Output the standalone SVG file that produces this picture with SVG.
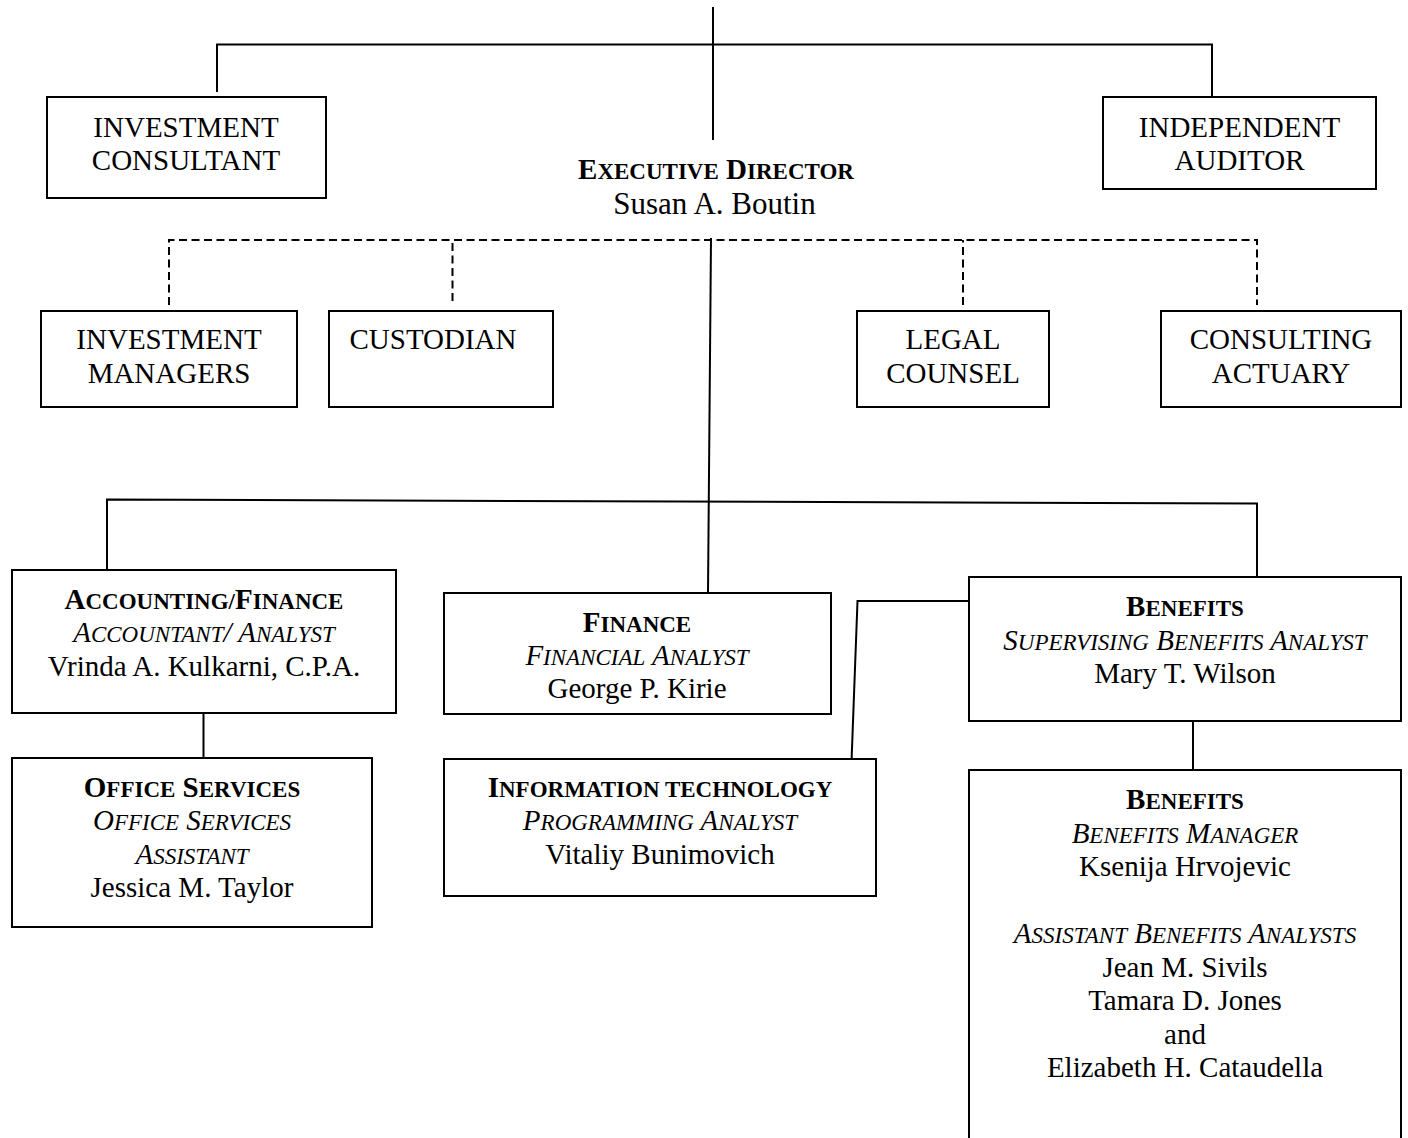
<svg xmlns="http://www.w3.org/2000/svg" width="1408" height="1138" viewBox="0 0 1408 1138">
<style>
text{font-family:"Liberation Serif","Times New Roman",serif;font-size:29px;fill:#000;text-anchor:middle}
.b{font-weight:bold}
.i{font-style:italic}
.s{font-size:23px}
.big{font-size:31px}
.box{fill:#fff;stroke:#000;stroke-width:2}
.ln{fill:none;stroke:#000;stroke-width:2}
.dash{fill:none;stroke:#000;stroke-width:2;stroke-dasharray:8 4.5}
</style>
<rect width="1408" height="1138" fill="#fff"/>
<g id="connectors">
<path class="ln" d="M713,7 V140"/>
<path class="ln" d="M217,92 V44.5 H1212 V97"/>
<path class="dash" d="M169,305 V240 H1257 V305"/>
<path class="dash" d="M452.5,301 V240"/>
<path class="dash" d="M963,305 V240"/>
<path class="ln" d="M711,238 L708,593"/>
<path class="ln" d="M107,570 V499.5 L1257,503.5 V577"/>
<path class="ln" d="M203.5,713 V758"/>
<path class="ln" d="M851.5,762 L857.5,601 H969"/>
<path class="ln" d="M1193,721 V770"/>
</g>
<g id="investment-consultant">
<rect class="box" x="47" y="97" width="279" height="101"/>
<text x="186" y="137">INVESTMENT</text>
<text x="186" y="170">CONSULTANT</text>
</g>
<g id="independent-auditor">
<rect class="box" x="1103" y="97" width="273" height="92"/>
<text x="1239.5" y="137">INDEPENDENT</text>
<text x="1239.5" y="170">AUDITOR</text>
</g>
<g id="executive-director">
<text class="b" x="716" y="179">E<tspan class="s">XECUTIVE</tspan> D<tspan class="s">IRECTOR</tspan></text>
<text class="big" x="714.5" y="214">Susan A. Boutin</text>
</g>
<g id="investment-managers">
<rect class="box" x="41" y="311" width="256" height="96"/>
<text x="169" y="349">INVESTMENT</text>
<text x="169" y="383">MANAGERS</text>
</g>
<g id="custodian">
<rect class="box" x="329" y="311" width="224" height="96"/>
<text x="433" y="349">CUSTODIAN</text>
</g>
<g id="legal-counsel">
<rect class="box" x="857" y="311" width="192" height="96"/>
<text x="953" y="349">LEGAL</text>
<text x="953" y="383">COUNSEL</text>
</g>
<g id="consulting-actuary">
<rect class="box" x="1161" y="311" width="240" height="96"/>
<text x="1281" y="349">CONSULTING</text>
<text x="1281" y="383">ACTUARY</text>
</g>
<g id="accounting-finance">
<rect class="box" x="12" y="570" width="384" height="143"/>
<text class="b" x="204" y="609">A<tspan class="s">CCOUNTING/</tspan>F<tspan class="s">INANCE</tspan></text>
<text class="i" x="204" y="642">A<tspan class="s">CCOUNTANT</tspan>/ A<tspan class="s">NALYST</tspan></text>
<text x="204" y="676">Vrinda A. Kulkarni, C.P.A.</text>
</g>
<g id="office-services">
<rect class="box" x="12" y="758" width="360" height="169"/>
<text class="b" x="192" y="797">O<tspan class="s">FFICE</tspan> S<tspan class="s">ERVICES</tspan></text>
<text class="i" x="192" y="830">O<tspan class="s">FFICE</tspan> S<tspan class="s">ERVICES</tspan></text>
<text class="i" x="192" y="864">A<tspan class="s">SSISTANT</tspan></text>
<text x="192" y="897">Jessica M. Taylor</text>
</g>
<g id="finance">
<rect class="box" x="444" y="593" width="387" height="121"/>
<text class="b" x="637" y="632">F<tspan class="s">INANCE</tspan></text>
<text class="i" x="637" y="665">F<tspan class="s">INANCIAL</tspan> A<tspan class="s">NALYST</tspan></text>
<text x="637" y="698">George P. Kirie</text>
</g>
<g id="information-technology">
<rect class="box" x="444" y="759" width="432" height="137"/>
<text class="b" x="660" y="797">I<tspan class="s">NFORMATION TECHNOLOGY</tspan></text>
<text class="i" x="660" y="830">P<tspan class="s">ROGRAMMING</tspan> A<tspan class="s">NALYST</tspan></text>
<text x="660" y="864">Vitaliy Bunimovich</text>
</g>
<g id="benefits-supervising">
<rect class="box" x="969" y="577" width="432" height="144"/>
<text class="b" x="1185" y="616">B<tspan class="s">ENEFITS</tspan></text>
<text class="i" x="1185" y="649.5">S<tspan class="s">UPERVISING</tspan> B<tspan class="s">ENEFITS</tspan> A<tspan class="s">NALYST</tspan></text>
<text x="1185" y="683">Mary T. Wilson</text>
</g>
<g id="benefits-manager">
<rect class="box" x="969" y="770" width="432" height="420"/>
<text class="b" x="1185" y="809">B<tspan class="s">ENEFITS</tspan></text>
<text class="i" x="1185" y="842.5">B<tspan class="s">ENEFITS</tspan> M<tspan class="s">ANAGER</tspan></text>
<text x="1185" y="876">Ksenija Hrvojevic</text>
<text class="i" x="1185" y="943">A<tspan class="s">SSISTANT</tspan> B<tspan class="s">ENEFITS</tspan> A<tspan class="s">NALYSTS</tspan></text>
<text x="1185" y="976.5">Jean M. Sivils</text>
<text x="1185" y="1010">Tamara D. Jones</text>
<text x="1185" y="1043.5">and</text>
<text x="1185" y="1077">Elizabeth H. Cataudella</text>
</g>
</svg>
